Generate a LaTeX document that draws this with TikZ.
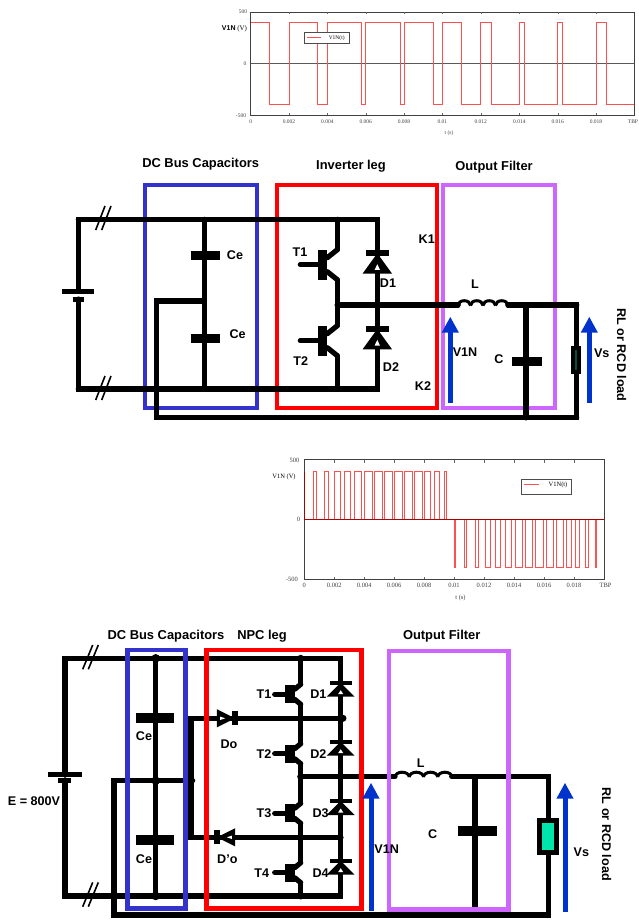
\documentclass[tikz,border=0pt]{standalone}
\usepackage{fontspec}
\setmainfont{Liberation Serif}
\newfontfamily\labelfont{Liberation Sans}
\usetikzlibrary{arrows.meta}
\definecolor{busblue}{RGB}{51,51,204}
\definecolor{filterpurple}{RGB}{204,102,255}
\definecolor{senseblue}{RGB}{0,51,204}
\definecolor{tracered}{RGB}{255,80,80}
\definecolor{zerored}{RGB}{170,0,0}
\definecolor{loadgreen}{RGB}{0,229,170}
\definecolor{loaddark}{RGB}{0,80,64}
\begin{document}
\begin{tikzpicture}[x=1pt,y=-1pt]
    % Define styles
    \tikzset{
        wire/.style={line width=5.2pt, black, line join=miter, line cap=round},
        thinwire/.style={line width=1.6pt, black},
        plate/.style={line width=9pt, black},
        bluebox/.style={line width=4pt, draw=busblue},
        redbox/.style={line width=4pt, draw=red},
        purplebox/.style={line width=4pt, draw=filterpurple},
        sense/.style={line width=5pt, draw=senseblue, -{Triangle[length=16pt,width=16pt]}},
        junction/.style={circle, fill=black, inner sep=0pt, minimum size=8.5pt},
        partlabel/.style={font=\labelfont\bfseries\fontsize{12.6}{14}\selectfont, inner sep=0pt},
        titlelabel/.style={font=\labelfont\bfseries\fontsize{12.9}{15}\selectfont, inner sep=0pt},
        frame/.style={line width=0.8pt, draw=black!75},
        trace/.style={line width=0.8pt, draw=tracered},
        ticklabel/.style={font=\fontsize{5.5}{7}\selectfont, text=black!75, inner sep=0pt},
        bigticklabel/.style={font=\fontsize{6.5}{8}\selectfont, text=black!75, inner sep=0pt},
        legendbox/.style={draw=black!70, line width=0.7pt, fill=white},
        diodeup/.pic={
            \fill[black] (0,0) -- (14,14) -- (-14,14) -- cycle;
            \fill[black] (-11,-2.2) rectangle (11,2.2);
            \fill[white] (0,7.5) -- (2.6,11.5) -- (-2.6,11.5) -- cycle;
        },
        igbtbig/.pic={
            \fill[black] (-19,-15) rectangle (-10,15);
            \draw[wire] (-37,0) -- (-15,0);
            \draw[wire] (-10,-7) -- (0,-15);
            \draw[wire] (-10,7) -- (0,15);
            \coordinate (-c) at (0,-15);
            \coordinate (-e) at (0,15);
        },
        igbtsmall/.pic={
            \fill[black] (-16,-9) rectangle (-6,9);
            \draw[wire] (-26,0) -- (-12,0);
            \draw[wire] (-6,-5) -- (0,-10);
            \draw[wire] (-6,5) -- (0,10);
            \coordinate (-c) at (0,-10);
            \coordinate (-e) at (0,10);
        },
        coil/.pic={
            \foreach \k in {0,1,2,3} {
                \draw[line width=3pt, black] (\k*12.5,0) arc[start angle=180, end angle=360, x radius=6.25, y radius=4.8];
            }
        }
    }

    \useasboundingbox (0,0) rectangle (639,920);

    %%% first chart
    \draw[frame] (250.7,12) rectangle (634.3,115.3);
    \draw[line width=0.7pt, black!65] (250.7,63.3) -- (634.3,63.3);
    \foreach \t in {0.002,0.004,0.006,0.008,0.01,0.012,0.014,0.016,0.018} {
        \pgfmathsetmacro{\tx}{250.7+\t*1000*19.18}
        \draw[black!60, line width=0.4pt] (\tx,12) -- (\tx,14.5) (\tx,115.3) -- (\tx,112.8);
        \node[ticklabel] (a\t) at (\tx,121.7) {\t};
    }
    \node[ticklabel] (a0) at (250.7,121.7) {0};
    \node[ticklabel] (atbp) at (633,121.7) {TBP};
    \node[ticklabel] (ay500) at (243,12) {500};
    \node[ticklabel] (ay0) at (245,63.3) {0};
    \node[ticklabel] (aym500) at (241,115.3) {-500};
    \node[ticklabel, text=black, font=\fontsize{7}{8}\selectfont] (ayname) at (234.5,29.3) {{\labelfont\bfseries V1N} (V)};
    \node[ticklabel] (axname) at (449,132.7) {t (s)};
    % high from a to b, then low from b to c
    \begin{scope}[shift={(250.7,63.3)},x=19.18pt,y=0.1033pt]
        \foreach \a/\b/\c in {0/1/2, 2/3.5/4, 4/5.75/6, 6/7.8/8, 8/9.5/10, 10/11/12, 12/12.55/14, 14/14.25/16, 16/16.25/18, 18/18.55/20} {
            \draw[trace] (\a,400) -- (\b,400) -- (\b,-400) -- (\c,-400);
            \ifnum\c<20 \draw[trace] (\c,-400) -- (\c,400); \fi
        }
    \end{scope}
    \node[legendbox, minimum width=44.5pt, minimum height=11pt, inner sep=0pt] (alegend) at (326.7,37.8) {};
    \draw[trace, line width=1pt] (306.7,37.5) -- (321,37.5);
    \node[ticklabel, text=black] (alegendtext) at (336.7,37.8) {V1N(t)};

    %%% first circuit
    \node[titlelabel] (t1) at (200.7,164.3) {DC Bus Capacitors};
    \node[titlelabel] (t2) at (351,166) {Inverter leg};
    \node[titlelabel] (t3) at (494,166.7) {Output Filter};

    \coordinate (tl) at (78.3,219.3);
    \coordinate (bl) at (78.3,389);
    \coordinate (batp) at (78.3,291);
    \coordinate (batn) at (78.3,299);
    \coordinate (ctop) at (204.3,219.3);
    \coordinate (cbot) at (204.3,389);
    \coordinate (cmid) at (204.3,301);
    \coordinate (retl) at (156.7,301);
    \coordinate (retb) at (156.7,417.7);
    \coordinate (retr) at (576.7,417.7);
    \coordinate (fbot) at (526,417.7);
    \coordinate (ftop) at (526,305);
    \coordinate (ltop) at (576.7,305);
    \coordinate (dtop) at (377.3,219.3);
    \coordinate (dbot) at (377.3,389);
    \coordinate (dmid) at (377.3,305);
    \coordinate (swtop) at (337.3,219.3);
    \coordinate (swbot) at (337.3,389);
    \coordinate (swmid) at (337.3,305);
    \coordinate (lin) at (458,305);
    \coordinate (lout) at (508,305);

    % main wires
    \draw[wire] (ctop) -- (tl) -- (batp);
    \draw[wire] (batn) -- (bl) -- (cbot);
    \draw[wire] (ctop) -- (dtop) -- (dbot) -- (cbot);
    \draw[wire] (ctop) -- (cbot);
    \draw[wire] (cmid) -- (retl) -- (retb) -- (retr) -- (ltop) -- (lout);
    \draw[wire] (swmid) -- (lin);
    \draw[wire] (ftop) -- (fbot);

    % boxes
    \draw[bluebox] (144.5,185) rectangle (256.7,407.7);
    \draw[redbox] (276.7,185) rectangle (437,407.7);
    \draw[purplebox] (442.7,185) rectangle (555,407.7);
    \draw[wire] (tl) -- (dtop) (bl) -- (dbot) (swmid) -- (lin);
    \draw[wire] (retl) -- (retb) -- (retr) (lout) -- (ltop) (ftop) -- (fbot);

    % battery, capacitors
    \draw[line width=5pt] (61.7,291) -- (94.3,291);
    \draw[line width=5pt] (72.7,299) -- (84.3,299);
    \draw[plate] (190.7,255.3) -- (220,255.3);
    \draw[plate] (190.7,338.3) -- (220,338.3);
    \draw[plate] (512,361) -- (541.7,361);

    % switches and diodes
    \pic (T1a) at (337.3,264.7) {igbtbig};
    \pic (T2a) at (337.3,340.7) {igbtbig};
    \draw[wire] (swtop) -- (T1a-c);
    \draw[wire] (T1a-e) -- (T2a-c);
    \draw[wire] (T2a-e) -- (swbot);
    \pic[xscale=1.05,yscale=1.45] at (377.3,253.3) {diodeup};
    \pic[xscale=1.05,yscale=1.45] at (377.3,329) {diodeup};

    \pic at (458,305.5) {coil};

    % load
    \fill[black] (571,346) rectangle (581,374);
    \fill[loaddark] (575.2,350) rectangle (576.8,370);

    % breaks
    \foreach \yb in {230,400} {
        \draw[thinwire] (95.7,\yb) -- (105,\yb-24);
        \draw[thinwire] (101.7,\yb) -- (111,\yb-24);
    }

    % sensed voltages
    \coordinate (v1a) at (450.3,403);
    \coordinate (v1b) at (450.3,316.7);
    \coordinate (v2a) at (589.3,403);
    \coordinate (v2b) at (589.3,316.7);
    \draw[sense] (v1a) -- (v1b);
    \draw[sense] (v2a) -- (v2b);

    % labels
    \node[partlabel] (ce1) at (235,255.3) {Ce};
    \node[partlabel] (ce2) at (237.7,334.3) {Ce};
    \node[partlabel] (t1a) at (300,251.7) {T1};
    \node[partlabel] (t2a) at (300.7,361) {T2};
    \node[partlabel] (d1a) at (388,282.7) {D1};
    \node[partlabel] (d2a) at (391,366.7) {D2};
    \node[partlabel] (k1) at (426.7,239.3) {K1};
    \node[partlabel] (k2) at (423,385.7) {K2};
    \node[partlabel] (la) at (475,284) {L};
    \node[partlabel] (v1n) at (465,352) {V1N};
    \node[partlabel] (ca) at (499,359) {C};
    \node[partlabel] (vsa) at (601.7,353) {Vs};
    \node[partlabel, rotate=-90] (loada) at (621.7,355) {RL or RCD load};

    %%% second chart
    \draw[frame] (304.3,459.7) rectangle (604.3,579.3);
    \foreach \t in {0.002,0.004,0.006,0.008,0.01,0.012,0.014,0.016,0.018} {
        \pgfmathsetmacro{\tx}{304.3+\t*1000*14.98}
        \draw[black!60, line width=0.4pt] (\tx,459.7) -- (\tx,462.5) (\tx,579.3) -- (\tx,576.5);
        \node[bigticklabel] (b\t) at (\tx,585.5) {\t};
    }
    \node[bigticklabel] (b0) at (304.3,585.5) {0};
    \node[bigticklabel] (btbp) at (605.5,585.5) {TBP};
    \node[bigticklabel] (by500) at (294.5,460) {500};
    \node[bigticklabel] (by0) at (298.5,519.7) {0};
    \node[bigticklabel] (bym500) at (292,579.3) {-500};
    \node[bigticklabel, text=black] (byname) at (284,476.5) {V1N (V)};
    \node[bigticklabel] (bxname) at (460.5,598) {t (s)};
    \begin{scope}[shift={(304.3,519.7)},x=14.98pt,y=0.1196pt]
        \foreach \a/\b in {0.62/0.82, 1.34/1.60, 2.0/2.38, 2.67/3.09, 3.34/3.83, 4.0/4.56, 4.67/5.23, 5.34/5.9, 6.01/6.56, 6.68/7.23, 7.34/7.88, 8.01/8.39, 8.68/8.99, 9.35/9.5} {
            \draw[trace] (\a,0) -- (\a,400) -- (\b,400) -- (\b,0);
        }
        \foreach \a/\b in {10.01/10.08, 10.68/10.84, 11.39/11.64, 12.06/12.39, 12.73/13.11, 13.44/13.84, 14.11/14.55, 14.78/15.24, 15.46/15.95, 16.13/16.62, 16.84/17.29, 17.51/17.85, 18.11/18.36, 18.74/18.96, 19.4/19.52} {
            \draw[trace] (\a,0) -- (\a,-400) -- (\b,-400) -- (\b,0);
        }
        \draw[line width=0.9pt, draw=zerored] (0,0) -- (20,0);
        \draw[line width=0.9pt, draw=zerored] (0,0) -- (0,400);
    \end{scope}
    \node[legendbox, minimum width=50pt, minimum height=15pt, inner sep=0pt] (blegend) at (546,487) {};
    \draw[trace] (524,484.5) -- (539,484.5);
    \node[bigticklabel, text=black] (blegendtext) at (558,485) {V1N(t)};

    %%% second circuit
    \node[titlelabel] (t4) at (166,636) {DC Bus Capacitors};
    \node[titlelabel] (t5) at (262,636) {NPC leg};
    \node[titlelabel] (t6) at (441.7,635.7) {Output Filter};

    \coordinate (Tl) at (65,658.3);
    \coordinate (Bl) at (65,896);
    \coordinate (Batp) at (65,774.7);
    \coordinate (Batn) at (65,780);
    \coordinate (Ctop) at (155.7,658.3);
    \coordinate (Cmid) at (155.7,780.7);
    \coordinate (Cbot) at (155.7,896);
    \coordinate (Retl) at (114,780.7);
    \coordinate (Retb) at (114,915);
    \coordinate (Retr) at (548.3,915);
    \coordinate (Ltop) at (548.3,776.7);
    \coordinate (Midr) at (192.7,780.7);
    \coordinate (Cla) at (191,718.3);
    \coordinate (Clb) at (191,837.3);
    \coordinate (Clar) at (343,718.3);
    \coordinate (Clbr) at (341,837.3);
    \coordinate (Swtop) at (300.7,658.3);
    \coordinate (Swbot) at (300.7,896);
    \coordinate (Swmid) at (300.7,776.7);
    \coordinate (Swcla) at (300.7,718.3);
    \coordinate (Swclb) at (300.7,837.3);
    \coordinate (Dtop) at (340.7,658.3);
    \coordinate (Dbot) at (340.7,896);
    \coordinate (Lin) at (395,776.7);
    \coordinate (Lout) at (451.7,776.7);
    \coordinate (Ftop) at (475,776.7);
    \coordinate (Fbot) at (475,915);
    \coordinate (Rtop) at (548.3,817.7);
    \coordinate (Rbot) at (548.3,855.3);

    % main wires
    \draw[wire] (Batp) -- (Tl) -- (Dtop) -- (Dbot) -- (Bl) -- (Batn);
    \draw[wire] (Ctop) -- (Cbot);
    \draw[wire] (Midr) -- (Retl) -- (Retb) -- (Retr) -- (Ltop) -- (Lout);
    \draw[wire] (Clar) -- (Cla) -- (Clb) -- (Clbr);
    \draw[wire] (Swmid) -- (Lin);
    \draw[wire] (Ftop) -- (Fbot);

    % boxes
    \draw[bluebox, line width=4.5pt] (127.7,650) rectangle (185.3,908.3);
    \draw[redbox, line width=4.5pt] (206.7,650) rectangle (361.7,908.7);
    \draw[purplebox, line width=4.5pt] (389,651) rectangle (508.3,909.3);

    % battery, capacitors
    \draw[line width=5pt] (47.7,774.7) -- (82.3,774.7);
    \draw[line width=5pt] (58,780) -- (71,780);
    \draw[plate, line width=10pt] (135.7,717.7) -- (174.3,717.7);
    \draw[plate, line width=10pt] (135.7,839.7) -- (174.3,839.7);
    \draw[plate, line width=10pt] (457.7,831.3) -- (497,831.3);

    % switches
    \pic (T1b) at (300.7,694.3) {igbtsmall};
    \pic (T2b) at (300.7,753.7) {igbtsmall};
    \pic (T3b) at (300.7,813.3) {igbtsmall};
    \pic (T4b) at (300.7,872.7) {igbtsmall};
    \draw[wire] (Swtop) -- (T1b-c);
    \draw[wire] (T1b-e) -- (T2b-c);
    \draw[wire] (T2b-e) -- (T3b-c);
    \draw[wire] (T3b-e) -- (T4b-c);
    \draw[wire] (T4b-e) -- (Swbot);

    % diodes
    \foreach \yd in {682.7,741.7,801,860.7} {
        \pic at (340.7,\yd) {diodeup};
    }
    \pic[rotate=-90,xscale=0.65,yscale=1.3] at (235,718.3) {diodeup};
    \pic[rotate=90,xscale=0.65,yscale=1.3] at (217,837.3) {diodeup};

    % junction dots
    \node[junction] (j1) at (Ctop) {};
    \node[junction] (j2) at (Cmid) {};
    \node[junction] (j3) at (Cbot) {};
    \node[junction, minimum size=7pt] (j4) at (Swtop) {};
    \node[junction, minimum size=7pt] (j5) at (Swcla) {};
    \node[junction, minimum size=7pt] (j6) at (Swmid) {};
    \node[junction, minimum size=7pt] (j7) at (Swclb) {};
    \node[junction, minimum size=7pt] (j8) at (Swbot) {};
    \node[junction, minimum size=7pt] (j9) at (Clar) {};

    \pic[xscale=1.14] at (395,777) {coil};

    % load
    \draw[line width=5pt, fill=loadgreen] (539.2,820.2) rectangle (556.8,852.8);

    % breaks
    \foreach \yb in {669.3,906.7} {
        \draw[thinwire] (82.7,\yb) -- (92.7,\yb-24.3);
        \draw[thinwire] (88.3,\yb) -- (98.3,\yb-24.3);
    }

    % sensed voltages
    \coordinate (V1a) at (371,910.7);
    \coordinate (V1b) at (371,782.7);
    \coordinate (V2a) at (565,911.7);
    \coordinate (V2b) at (565,782.7);
    \draw[sense] (V1a) -- (V1b);
    \draw[sense] (V2a) -- (V2b);

    % labels
    \node[partlabel] (ce3) at (144,735.7) {Ce};
    \node[partlabel] (ce4) at (144,859.3) {Ce};
    \node[partlabel] (e800) at (34,800.7) {E = 800V};
    \node[partlabel] (do) at (229,744.7) {Do};
    \node[partlabel] (dpo) at (227.3,859.3) {D’o};
    \node[partlabel] (t1b) at (264,694.3) {T1};
    \node[partlabel] (t2b) at (264,753.7) {T2};
    \node[partlabel] (t3b) at (264,812.7) {T3};
    \node[partlabel] (t4b) at (261.7,873.3) {T4};
    \node[partlabel] (d1b) at (318.3,694.3) {D1};
    \node[partlabel] (d2b) at (318.3,753.7) {D2};
    \node[partlabel] (d3b) at (320.7,812.7) {D3};
    \node[partlabel] (d4b) at (320.7,872.7) {D4};
    \node[partlabel] (lb) at (420.7,762.7) {L};
    \node[partlabel] (v1nb) at (386.7,849.3) {V1N};
    \node[partlabel] (cb) at (432.7,834.3) {C};
    \node[partlabel] (vsb) at (581.3,852.7) {Vs};
    \node[partlabel, rotate=-90] (loadb) at (606.7,834.3) {RL or RCD load};
\end{tikzpicture}
\end{document}
